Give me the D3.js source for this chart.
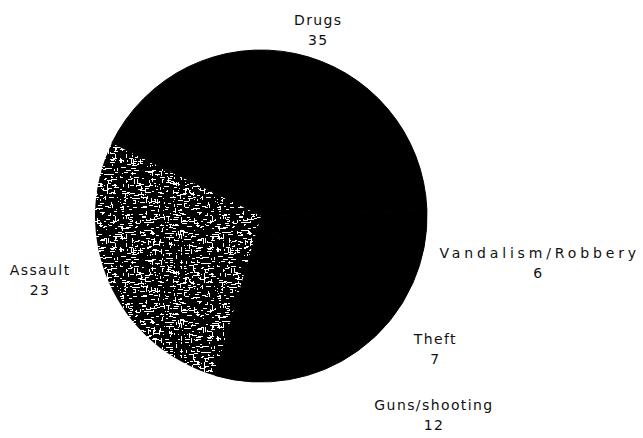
<!DOCTYPE html>
<html>
<head>
<meta charset="utf-8">
<script src="https://cdn.jsdelivr.net/npm/d3@7"></script>
<style>
	html, body { margin: 0; padding: 0; background: #fff; }
	svg { display: block; }
	.lbl { font-family: "DejaVu Sans", sans-serif; font-size: 14px; letter-spacing: 1.4px; fill: #111; }
</style>
</head>
<body>
<div id="chart"></div>
<script>
// Data (counts by incident type)
const categories = ["Drugs", "Vandalism/Robbery", "Theft", "Guns/shooting", "Assault"]
const counts = [35, 6, 7, 12, 23]

// layout
const width = 643
const height = 438
const cx = 261
const cy = 216
const radius = 166
const labelR = 200
// hand placement of labels, like the original
const labelNudge = [[16, 5], [81, 4], [19, 2], [139, -3], [-38, -22]]

const svg = d3.select("#chart")
	.append("svg")
	.attr("width", width)
	.attr("height", height)

// speckled texture for the Assault wedge
const tileW = 97
const tileH = 89
const defs = svg.append("defs")
const pat = defs.append("pattern")
	.attr("id", "speckle")
	.attr("patternUnits", "userSpaceOnUse")
	.attr("width", tileW)
	.attr("height", tileH)
pat.append("rect").attr("width", tileW).attr("height", tileH).attr("fill", "#000")
let seed = 11
const rnd = () => {
	seed = (seed * 16807) % 2147483647
	return seed / 2147483647
}
for (let i = 0; i < 650; i++) {
	const horiz = rnd() < 0.7
	const len = 1 + Math.floor(rnd() * 5)
	pat.append("rect")
		.attr("x", Math.floor(rnd() * tileW))
		.attr("y", Math.floor(rnd() * tileH))
		.attr("width", horiz ? len : 1)
		.attr("height", horiz ? 1 : len)
		.attr("fill", "#fff")
}

const g = svg.append("g").attr("transform", `translate(${cx},${cy})`)

const data = categories.map((c, i) => ({ label: c, value: counts[i] }))

const startDeg = -64
const pie = d3.pie()
	.sort(null)
	.value((d) => d.value)
	.startAngle((startDeg * Math.PI) / 180)
	.endAngle(((startDeg + 360) * Math.PI) / 180)

const arc = d3.arc().innerRadius(0).outerRadius(radius)
const labelArc = d3.arc().innerRadius(labelR).outerRadius(labelR)

const arcs = pie(data)

g.selectAll("path.slice")
	.data(arcs)
	.join("path")
	.attr("class", "slice")
	.attr("d", arc)
	.attr("fill", (d) => (d.data.label === "Assault" ? "url(#speckle)" : "#000"))
	.attr("stroke", (d) => (d.data.label === "Assault" ? "none" : "#000"))
	.attr("stroke-width", 1)

// labels
const labels = g.selectAll("text.lbl")
	.data(arcs)
	.join("text")
	.attr("class", "lbl")
	.attr("text-anchor", "middle")
	.attr("transform", (d, i) => {
		const [x, y] = labelArc.centroid(d)
		return `translate(${x + labelNudge[i][0]},${y + labelNudge[i][1]})`
	})

labels.append("tspan")
	.attr("x", 0)
	.attr("y", 0)
	.text((d) => d.data.label)
	// the long label is set wider in the original
	.each(function (d) {
		if (d.data.label === "Vandalism/Robbery") {
			d3.select(this).attr("textLength", 198).attr("lengthAdjust", "spacing")
		}
	})

labels.append("tspan")
	.attr("x", 0)
	.attr("y", 20)
	.text((d) => d.data.value)
</script>
</body>
</html>
